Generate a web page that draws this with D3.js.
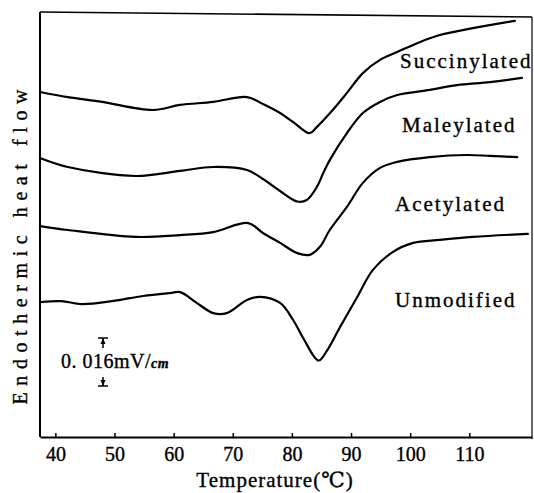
<!DOCTYPE html>
<html>
<head>
<meta charset="utf-8">
<script src="https://cdn.jsdelivr.net/npm/d3@7"></script>
<style>
  body { margin: 0; background: #fff; }
  svg { display: block; }
  text { font-family: "Liberation Serif", "DejaVu Serif", serif; fill: #000; stroke: #000; stroke-width: 0.35px; }
</style>
</head>
<body>
<div id="chart"></div>
<script>
// DSC traces, [temperature (C), heat flow deflection (uV, arbitrary zero)]
var succinylated = [[37.4,115.0],[42.1,113.3],[47.9,111.7],[56.5,109.0],[61.1,110.7],[66.7,111.7],
  [72.4,113.3],[75.1,111.0],[78.0,108.0],[80.2,105.0],[83.0,101.3],[84.2,103.3],[86.9,109.0],
  [89.3,114.7],[92.0,121.3],[94.9,125.7],[97.8,128.3],[101.7,131.7],[105.0,134.0],[110.6,136.3],[117.7,138.7]];
var maleylated = [[37.4,93.0],[42.1,90.0],[53.6,87.0],[61.1,88.7],[66.7,90.0],[72.4,89.0],
  [75.1,86.0],[78.0,82.0],[80.9,78.5],[82.5,79.0],[84.2,83.3],[85.3,88.0],[86.4,92.3],
  [89.3,101.3],[92.0,108.0],[94.9,111.7],[97.8,114.0],[103.3,115.7],[107.9,117.3],[113.5,118.3],[118.9,119.7]];
var acetylated = [[37.4,70.3],[42.1,69.0],[53.6,66.7],[61.1,67.3],[66.7,68.3],[72.6,71.3],
  [75.1,68.0],[78.0,64.7],[80.9,61.3],[83.0,60.7],[84.7,63.3],[86.4,69.0],[89.3,76.7],
  [92.0,84.7],[94.9,89.7],[97.8,91.7],[103.3,93.3],[109.6,94.0],[113.5,93.7],[118.1,93.3]];
var unmodified = [[37.6,45.0],[41.0,45.3],[44.5,44.3],[49.6,45.3],[54.8,47.0],[59.4,48.0],
  [61.1,48.3],[63.9,44.7],[66.7,41.3],[69.0,41.3],[72.4,45.7],[74.6,46.7],[78.0,44.7],
  [80.2,39.0],[81.9,33.0],[84.5,25.5],[85.9,28.7],[88.1,36.5],[91.0,46.5],[93.7,55.7],
  [97.1,61.7],[100.5,64.7],[105.0,65.7],[110.6,66.7],[119.9,67.7]];

var seriesNames = ["Succinylated", "Maleylated", "Acetylated", "Unmodified"];
var seriesData = [succinylated, maleylated, acetylated, unmodified];
var tickTemps = [40, 50, 60, 70, 80, 90, 100, 110];
var scaleBarValue = 16; // uV = 0.016 mV per cm of chart

var WIDTH = 534, HEIGHT = 493;
var LEFT = 40, RIGHT = 532, TOP = 14, BOTTOM = 437;
var FONT_SIZE = 20;

var svg = d3.select("#chart").append("svg")
  .attr("width", WIDTH)
  .attr("height", HEIGHT);

var xScale = d3.scaleLinear().domain([37.4, 120.6]).range([LEFT, RIGHT]);
var yScale = d3.scaleLinear().domain([0, 141]).range([BOTTOM, TOP]);

// frame (scan is a bit skewed at the top)
svg.append("line")
  .attr("x1", LEFT).attr("y1", TOP - 2).attr("x2", RIGHT).attr("y2", TOP + 3)
  .attr("stroke", "#000").attr("stroke-width", 1.6);
svg.append("line")
  .attr("x1", LEFT).attr("y1", TOP - 2).attr("x2", LEFT).attr("y2", BOTTOM)
  .attr("stroke", "#000").attr("stroke-width", 2);
svg.append("line")
  .attr("x1", RIGHT).attr("y1", TOP + 3).attr("x2", RIGHT).attr("y2", BOTTOM + 2)
  .attr("stroke", "#000").attr("stroke-width", 1.2);

// x axis, ticks pointing inwards
var xAxis = d3.axisBottom(xScale)
  .tickValues(tickTemps)
  .tickFormat(d3.format("d"))
  .tickSizeInner(-4)
  .tickSizeOuter(0)
  .tickPadding(10);

var gx = svg.append("g")
  .attr("transform", "translate(0," + BOTTOM + ")")
  .call(xAxis);
gx.select(".domain").attr("stroke", "#000").attr("stroke-width", 2);
gx.selectAll(".tick line").attr("stroke", "#000").attr("stroke-width", 1.5);
gx.selectAll(".tick text")
  .style("font-family", "Liberation Serif")
  .style("font-size", FONT_SIZE + "px")
  .attr("fill", "#000");

svg.append("text")
  .attr("x", 275)
  .attr("y", 487)
  .attr("text-anchor", "middle")
  .style("font-size", "21px")
  .style("letter-spacing", "1px")
  .text("Temperature(\u2103)");

svg.append("text")
  .attr("transform", "translate(27,247) rotate(-90)")
  .attr("text-anchor", "middle")
  .attr("textLength", 315)
  .attr("lengthAdjust", "spacing")
  .style("font-size", FONT_SIZE + "px")
  .text("Endothermic heat flow");

// curves
var line = d3.line()
  .x(function(d) { return xScale(d[0]); })
  .y(function(d) { return yScale(d[1]); })
  .curve(d3.curveCatmullRom.alpha(0.5));

svg.selectAll(".trace")
  .data(seriesData)
  .enter().append("path")
  .attr("class", "trace")
  .attr("d", line)
  .attr("fill", "none")
  .attr("stroke", "#000")
  .attr("stroke-width", 2.2)
  .attr("stroke-linejoin", "round")
  .attr("stroke-linecap", "round");

// curve labels
var labelPos = [[400, 68], [402, 132], [395, 211], [395, 307]];
svg.selectAll(".series-label")
  .data(seriesNames)
  .enter().append("text")
  .attr("class", "series-label")
  .attr("x", function(d, i) { return labelPos[i][0]; })
  .attr("y", function(d, i) { return labelPos[i][1]; })
  .style("font-size", "21px")
  .style("letter-spacing", "2px")
  .text(function(d) { return d; });

// scale bar
var barX = 103, barTop = 338;
var barH = yScale(0) - yScale(scaleBarValue);
var bar = svg.append("g").attr("stroke", "#000").attr("fill", "#000");
bar.append("line").attr("x1", barX - 5).attr("x2", barX + 5).attr("y1", barTop).attr("y2", barTop).attr("stroke-width", 1.5);
bar.append("line").attr("x1", barX).attr("x2", barX).attr("y1", barTop).attr("y2", barTop + 10).attr("stroke-width", 1.5);
bar.append("path").attr("d", "M" + barX + "," + barTop + "l-2.5,6h5z").attr("stroke", "none");
bar.append("line").attr("x1", barX - 5).attr("x2", barX + 5).attr("y1", barTop + barH).attr("y2", barTop + barH).attr("stroke-width", 1.5);
bar.append("line").attr("x1", barX).attr("x2", barX).attr("y1", barTop + barH - 9).attr("y2", barTop + barH).attr("stroke-width", 1.5);
bar.append("path").attr("d", "M" + barX + "," + (barTop + barH) + "l-2.5,-6h5z").attr("stroke", "none");

var scaleText = svg.append("text")
  .attr("x", 61)
  .attr("y", 368)
  .style("font-size", FONT_SIZE + "px")
  .style("letter-spacing", "0.5px")
  .text("0. 016mV/");
scaleText.append("tspan")
  .style("font-size", "14px")
  .style("font-style", "italic")
  .style("font-weight", "bold")
  .text("cm");
</script>
</body>
</html>
